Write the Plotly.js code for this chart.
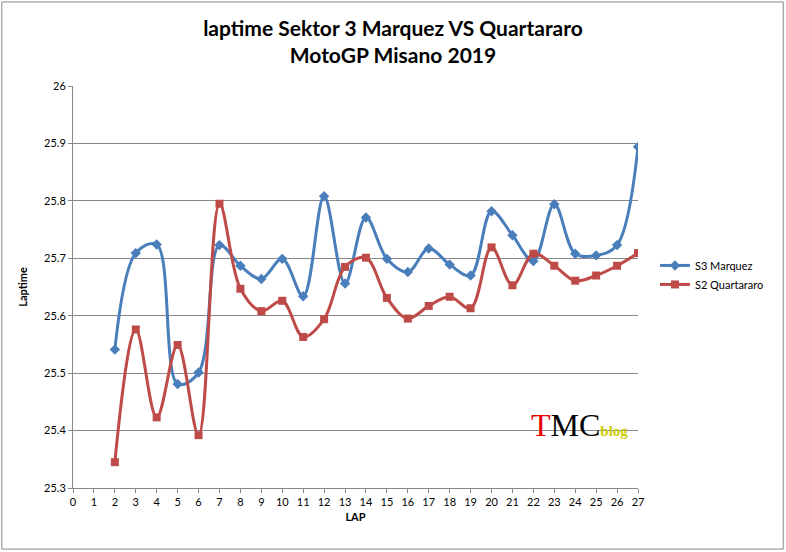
<!DOCTYPE html>
<html>
<head>
<meta charset="utf-8">
<script src="https://cdn.plot.ly/plotly-3.0.1.min.js"></script>
<style>body{margin:0;background:#fff}#chart{width:786px;height:552px}</style>
</head>
<body>
<div id="chart"></div>
<script>
var laps = [2,3,4,5,6,7,8,9,10,11,12,13,14,15,16,17,18,19,20,21,22,23,24,25,26,27];
var marquez = [25.541,25.709,25.724,25.481,25.501,25.723,25.687,25.664,25.699,25.634,25.808,25.656,
  25.771,25.699,25.676,25.717,25.689,25.670,25.782,25.740,25.695,25.794,25.708,25.705,25.723,25.894];
var quartararo = [25.345,25.576,25.423,25.549,25.392,25.795,25.647,25.608,25.626,25.563,25.594,25.685,
  25.701,25.631,25.595,25.617,25.633,25.613,25.719,25.653,25.708,25.687,25.661,25.670,25.687,25.709];
var xTicks = [];
for (var i = 0; i <= 27; i++) xTicks.push(i);

var s3 = {
  x: laps, y: marquez, type: 'scatter', mode: 'lines+markers',
  name: 'S3 Marquez',
  line: {color: '#4a7ebb', width: 3, shape: 'spline', smoothing: 1},
  marker: {color: '#4a7ebb', size: 8, symbol: 'diamond'}
};
var s2 = {
  x: laps, y: quartararo, type: 'scatter', mode: 'lines+markers',
  name: 'S2 Quartararo',
  line: {color: '#be4b48', width: 3, shape: 'spline', smoothing: 1},
  marker: {color: '#be4b48', size: 8, symbol: 'square'}
};

var layout = {
  width: 786, height: 552,
  margin: {l: 73, r: 148, t: 86, b: 64},
  font: {family: 'Lato, "Open Sans", sans-serif', size: 11, color: '#000'},
  title: {text: 'laptime Sektor 3 Marquez VS Quartararo<br>MotoGP Misano 2019',
    font: {size: 21, family: 'Lato, sans-serif', weight: 'bold'}, x: 0.5, y: 0.935, yanchor: 'top'},
  xaxis: {range: [0, 27], tickvals: xTicks, showgrid: false, zeroline: false,
    showline: true, linecolor: '#888', ticks: 'outside', ticklen: 4, tickcolor: '#888',
    title: {text: '<b>LAP</b>', font: {size: 11}, standoff: 6}},
  yaxis: {range: [25.3, 26], dtick: 0.1, showgrid: true, gridcolor: '#888',
    zeroline: false, showline: true, linecolor: '#888', ticks: 'outside', ticklen: 4, tickcolor: '#888',
    title: {text: '<b>Laptime</b>', font: {size: 11}, standoff: 14}},
  legend: {x: 1.03, y: 0.53, yanchor: 'middle', font: {size: 11}, tracegroupgap: 8,
    bgcolor: 'rgba(0,0,0,0)'},
  showlegend: true,
  shapes: [{type: 'rect', xref: 'paper', yref: 'paper', x0: -0.126, x1: 1.257, y0: -0.152, y1: 1.209,
    line: {color: '#888', width: 1}}],
  annotations: [{xref: 'x', yref: 'y', x: 24.2, y: 25.41, showarrow: false,
    text: '<span style="color:#e00">T</span>MC<span style="color:#cc0;font-size:15px"><b>blog</b></span>',
    font: {size: 32, family: '"Liberation Serif", serif', color: '#000'}}],
  plot_bgcolor: '#fff', paper_bgcolor: '#fff'
};

Plotly.newPlot('chart', [s3, s2], layout, {displayModeBar: false});
</script>
</body>
</html>
